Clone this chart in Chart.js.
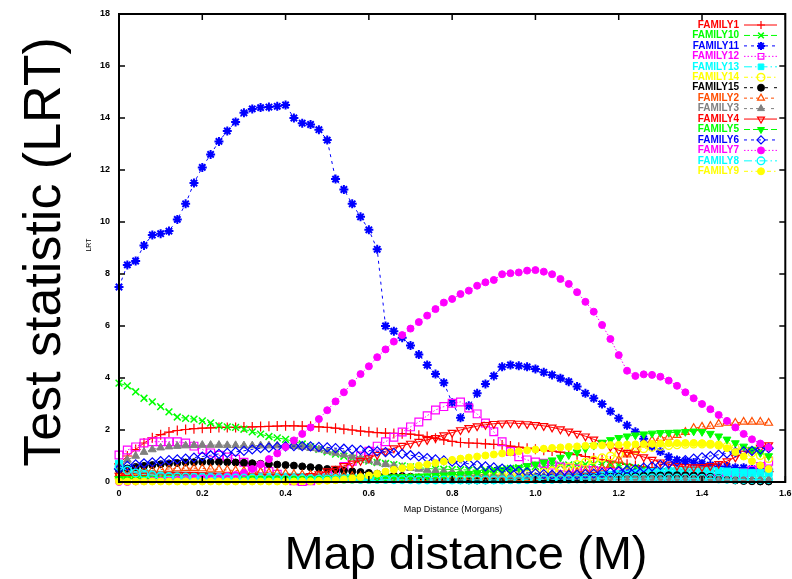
<!DOCTYPE html>
<html><head><meta charset="utf-8">
<script src="https://cdn.jsdelivr.net/npm/chart.js@4.4.1/dist/chart.umd.min.js"></script>
<style>
html,body{margin:0;padding:0;background:#fff;}
#wrap{position:relative;width:792px;height:579px;overflow:hidden;background:#fff;}
canvas{position:absolute;left:0;top:0;}
.lbl{position:absolute;font-family:'Liberation Sans',Arial,sans-serif;color:#000;white-space:nowrap;line-height:1;}
</style></head><body>
<div id="wrap">
<canvas id="c" width="792" height="579"></canvas>
<div class="lbl" style="left:42px;top:252px;font-size:52px;transform:translate(-50%,-50%) rotate(-90deg);">Test statistic (LRT)</div>
<div class="lbl" style="left:88px;top:245px;font-size:7px;transform:translate(-50%,-50%) rotate(-90deg);">LRT</div>
<div class="lbl" style="left:453px;top:509px;font-size:9px;transform:translate(-50%,-50%);">Map Distance (Morgans)</div>
<div class="lbl" style="left:466px;top:552px;font-size:47px;transform:translate(-50%,-50%);">Map distance (M)</div>
</div>
<script>
const distances = [0,0.02,0.04,0.06,0.08,0.1,0.12,0.14,0.16,0.18,0.2,0.22,0.24,0.26,0.28,0.3,0.32,0.34,0.36,0.38,0.4,0.42,0.44,0.46,0.48,0.5,0.52,0.54,0.56,0.58,0.6,0.62,0.64,0.66,0.68,0.7,0.72,0.74,0.76,0.78,0.8,0.82,0.84,0.86,0.88,0.9,0.92,0.94,0.96,0.98,1,1.02,1.04,1.06,1.08,1.1,1.12,1.14,1.16,1.18,1.2,1.22,1.24,1.26,1.28,1.3,1.32,1.34,1.36,1.38,1.4,1.42,1.44,1.46,1.48,1.5,1.52,1.54,1.56];

const family1 = [0.7,1.0,1.25,1.5,1.7,1.82,1.92,1.98,2.02,2.05, 2.07,2.08,2.1,2.1,2.1,2.12,2.12,2.13,2.14,2.15, 2.16,2.16,2.15,2.14,2.12,2.1,2.07,2.03,2.0,1.96, 1.93,1.9,1.88,1.87,1.86,1.84,1.8,1.75,1.68,1.62, 1.56,1.52,1.5,1.49,1.47,1.45,1.42,1.38,1.34,1.3, 1.26,1.22,1.19,1.15,1.1,1.05,0.98,0.92,0.86,0.8, 0.74,0.68,0.63,0.58,0.55,0.52,0.5,0.48,0.46,0.45, 0.44,0.43,0.42,0.41,0.4,0.4,0.4,0.4,0.4];
const family10 = [3.8,3.7,3.47,3.22,3.08,2.9,2.7,2.5,2.45,2.42, 2.35,2.27,2.17,2.12,2.1,2.03,1.93,1.84,1.75,1.7, 1.64,1.56,1.46,1.36,1.26,1.16,1.07,0.99,0.92,0.86, 0.8,0.75,0.71,0.67,0.62,0.58,0.55,0.52,0.5,0.49, 0.48,0.47,0.46,0.46,0.47,0.48,0.5,0.52,0.55,0.58, 0.6,0.62,0.64,0.65,0.66,0.67,0.68,0.68,0.67,0.66, 0.64,0.6,0.55,0.5,0.45,0.4,0.36,0.33,0.3,0.28, 0.26,0.25,0.24,0.23,0.22,0.21,0.2,0.2,0.2];
const family11 = [7.5,8.35,8.5,9.1,9.5,9.55,9.65,10.1,10.7,11.5, 12.1,12.6,13.1,13.5,13.85,14.2,14.35,14.4,14.42,14.45, 14.5,14.0,13.8,13.75,13.55,13.15,11.65,11.25,10.7,10.2, 9.7,8.95,6.0,5.8,5.55,5.25,4.9,4.5,4.15,3.82, 3.05,2.47,2.93,3.41,3.77,4.08,4.43,4.5,4.47,4.43, 4.35,4.22,4.12,3.99,3.86,3.67,3.41,3.22,3.0,2.72, 2.45,2.18,1.93,1.66,1.36,1.17,0.97,0.85,0.8,0.75, 0.7,0.65,0.6,0.6,0.55,0.55,0.5,0.5,0.48];
const family12 = [1.04,1.23,1.35,1.5,1.55,1.55,1.55,1.55,1.5,1.38, 1.25,1.12,1.03,0.96,0.88,0.76,0.63,0.5,0.4,0.3, 0.15,0.05,0.02,0.05,0.12,0.22,0.38,0.6,0.8,1.0, 1.18,1.38,1.55,1.72,1.92,2.12,2.31,2.55,2.77,2.9, 3.03,3.08,2.85,2.62,2.27,1.93,1.55,1.17,0.97,0.85, 0.77,0.72,0.65,0.58,0.54,0.5,0.47,0.44,0.4,0.37, 0.35,0.32,0.3,0.28,0.26,0.24,0.22,0.2,0.18,0.16, 0.15,0.15,0.15,0.18,0.25,0.35,0.45,0.6,0.8];
const family13 = [0.7,0.5,0.4,0.35,0.3,0.28,0.26,0.25,0.24,0.23, 0.22,0.22,0.21,0.21,0.2,0.2,0.2,0.2,0.2,0.2, 0.2,0.2,0.19,0.19,0.18,0.18,0.17,0.17,0.16,0.16, 0.15,0.15,0.14,0.14,0.13,0.13,0.12,0.12,0.11,0.11, 0.1,0.1,0.1,0.1,0.1,0.11,0.11,0.12,0.12,0.13, 0.14,0.15,0.16,0.17,0.18,0.2,0.22,0.24,0.26,0.28, 0.3,0.32,0.34,0.36,0.38,0.4,0.42,0.43,0.44,0.45, 0.45,0.44,0.42,0.4,0.38,0.36,0.35,0.35,0.35];
const family14 = [0.15,0.14,0.13,0.12,0.12,0.11,0.11,0.1,0.1,0.1, 0.1,0.1,0.11,0.11,0.11,0.12,0.12,0.12,0.12,0.12, 0.12,0.12,0.12,0.11,0.11,0.11,0.1,0.1,0.1,0.1, 0.1,0.11,0.11,0.12,0.12,0.13,0.13,0.14,0.15,0.16, 0.17,0.18,0.19,0.2,0.21,0.22,0.23,0.25,0.27,0.3, 0.33,0.37,0.43,0.5,0.58,0.67,0.76,0.85,0.93,1.0, 1.08,1.15,1.22,1.28,1.33,1.37,1.4,1.43,1.45,1.46, 1.46,1.45,1.42,1.37,1.3,1.22,1.12,1.02,0.9];
const family15 = [0.45,0.52,0.58,0.62,0.65,0.68,0.71,0.73,0.75,0.76, 0.77,0.77,0.77,0.76,0.75,0.74,0.72,0.7,0.69,0.67, 0.65,0.63,0.6,0.57,0.54,0.5,0.47,0.44,0.41,0.38, 0.35,0.32,0.29,0.26,0.23,0.2,0.17,0.14,0.12,0.1, 0.08,0.07,0.06,0.06,0.06,0.07,0.07,0.08,0.09,0.1, 0.11,0.12,0.13,0.14,0.15,0.16,0.17,0.18,0.19,0.2, 0.21,0.22,0.23,0.24,0.25,0.25,0.26,0.26,0.26,0.25, 0.24,0.2,0.15,0.1,0.06,0.04,0.03,0.02,0.02];
const family2 = [0.3,0.35,0.4,0.42,0.45,0.48,0.5,0.52,0.53,0.53, 0.52,0.5,0.48,0.46,0.44,0.42,0.4,0.38,0.36,0.34, 0.32,0.3,0.28,0.27,0.26,0.25,0.24,0.23,0.22,0.21, 0.2,0.19,0.18,0.17,0.16,0.15,0.14,0.13,0.12,0.12, 0.11,0.11,0.1,0.1,0.1,0.1,0.11,0.12,0.13,0.15, 0.17,0.2,0.24,0.28,0.33,0.38,0.42,0.46,0.52,0.65, 0.85,1.05,1.25,1.45,1.6,1.69,1.73,1.8,1.92,2.07, 2.12,2.15,2.23,2.27,2.27,2.31,2.31,2.31,2.27];
const family3 = [0.6,0.85,1.0,1.15,1.25,1.32,1.36,1.38,1.4,1.41, 1.42,1.42,1.42,1.41,1.41,1.4,1.4,1.4,1.4,1.4, 1.4,1.38,1.35,1.3,1.25,1.18,1.12,1.05,0.98,0.9, 0.82,0.75,0.68,0.62,0.57,0.53,0.5,0.46,0.43,0.4, 0.37,0.34,0.32,0.3,0.28,0.26,0.25,0.24,0.23,0.22, 0.21,0.2,0.2,0.19,0.19,0.18,0.18,0.17,0.17,0.16, 0.16,0.15,0.15,0.14,0.14,0.13,0.13,0.12,0.12,0.11, 0.11,0.1,0.1,0.1,0.1,0.1,0.1,0.1,0.1];
const family4 = [0.25,0.25,0.25,0.25,0.26,0.27,0.28,0.28,0.28,0.28, 0.27,0.26,0.25,0.24,0.23,0.22,0.21,0.2,0.2,0.2, 0.2,0.2,0.21,0.24,0.3,0.42,0.52,0.62,0.72,0.82, 0.92,1.05,1.18,1.3,1.4,1.48,1.55,1.62,1.7,1.8, 1.9,2.0,2.08,2.15,2.2,2.24,2.26,2.27,2.25,2.23, 2.2,2.16,2.1,2.03,1.95,1.86,1.76,1.64,1.5,1.36, 1.22,1.13,1.06,0.96,0.86,0.76,0.68,0.62,0.58,0.57, 0.58,0.62,0.7,0.8,0.95,1.1,1.22,1.32,1.42];
const family5 = [0.12,0.12,0.13,0.13,0.14,0.14,0.15,0.15,0.15,0.15, 0.15,0.15,0.15,0.15,0.14,0.14,0.14,0.13,0.13,0.13, 0.12,0.12,0.12,0.12,0.12,0.12,0.13,0.13,0.14,0.15, 0.16,0.17,0.18,0.19,0.2,0.21,0.22,0.23,0.24,0.26, 0.28,0.3,0.32,0.35,0.38,0.42,0.46,0.5,0.55,0.62, 0.68,0.76,0.84,0.94,1.04,1.15,1.28,1.4,1.52,1.62, 1.7,1.76,1.8,1.84,1.87,1.89,1.9,1.91,1.93,1.95, 1.93,1.86,1.76,1.64,1.5,1.37,1.25,1.12,1.0];
const family6 = [0.5,0.62,0.68,0.72,0.76,0.8,0.84,0.87,0.9,0.94, 0.98,1.03,1.08,1.12,1.16,1.2,1.25,1.3,1.32,1.35, 1.37,1.38,1.38,1.37,1.35,1.33,1.3,1.28,1.25,1.23, 1.21,1.18,1.15,1.12,1.08,1.03,0.98,0.92,0.87,0.83, 0.78,0.74,0.7,0.65,0.6,0.56,0.52,0.48,0.42,0.37, 0.33,0.3,0.28,0.27,0.27,0.28,0.3,0.32,0.35,0.38, 0.42,0.46,0.5,0.55,0.6,0.66,0.72,0.78,0.84,0.9, 0.95,1.0,1.05,1.1,1.15,1.18,1.2,1.25,1.3];
const family7 = [0,0,0.02,0.03,0.05,0.06,0.08,0.1,0.12,0.14, 0.16,0.18,0.2,0.23,0.27,0.35,0.5,0.68,0.88,1.1, 1.35,1.6,1.85,2.1,2.42,2.76,3.1,3.45,3.8,4.15, 4.45,4.8,5.1,5.4,5.65,5.9,6.15,6.4,6.65,6.9, 7.04,7.23,7.36,7.55,7.68,7.77,7.99,8.03,8.06,8.13, 8.15,8.09,7.99,7.81,7.62,7.3,6.93,6.55,6.04,5.5, 4.88,4.28,4.08,4.14,4.12,4.05,3.9,3.7,3.45,3.22, 3.0,2.8,2.58,2.35,2.1,1.85,1.64,1.48,1.33];
const family8 = [0.6,0.45,0.35,0.3,0.26,0.23,0.21,0.2,0.19,0.18, 0.17,0.17,0.16,0.16,0.15,0.15,0.15,0.14,0.14,0.14, 0.13,0.13,0.13,0.12,0.12,0.12,0.11,0.11,0.11,0.1, 0.1,0.1,0.1,0.09,0.09,0.09,0.08,0.08,0.08,0.08, 0.08,0.08,0.08,0.08,0.08,0.08,0.08,0.09,0.09,0.09, 0.1,0.1,0.1,0.11,0.11,0.12,0.12,0.12,0.13,0.13, 0.13,0.14,0.14,0.14,0.15,0.15,0.15,0.15,0.15,0.14, 0.14,0.13,0.12,0.11,0.1,0.1,0.1,0.1,0.1];
const family9 = [0.02,0.02,0.02,0.02,0.02,0.02,0.02,0.02,0.02,0.02, 0.02,0.02,0.02,0.02,0.02,0.02,0.02,0.02,0.02,0.02, 0.02,0.02,0.03,0.03,0.04,0.05,0.07,0.1,0.14,0.19, 0.25,0.32,0.4,0.47,0.53,0.58,0.63,0.68,0.73,0.79, 0.85,0.9,0.94,0.98,1.02,1.06,1.1,1.14,1.18,1.22, 1.25,1.28,1.31,1.33,1.35,1.37,1.39,1.4,1.41,1.42, 1.43,1.44,1.45,1.46,1.47,1.48,1.49,1.5,1.5,1.5, 1.49,1.46,1.4,1.3,1.15,0.98,0.8,0.64,0.5];

const seriesNames = ['FAMILY1','FAMILY10','FAMILY11','FAMILY12','FAMILY13','FAMILY14','FAMILY15','FAMILY2','FAMILY3','FAMILY4','FAMILY5','FAMILY6','FAMILY7','FAMILY8','FAMILY9'];
const seriesValues = [family1,family10,family11,family12,family13,family14,family15,family2,family3,family4,family5,family6,family7,family8,family9];
const xTickStep = 0.2, xMax = 1.6, yTickStep = 2, yMax = 18;

// style per series (gnuplot postscript palette / point types)
const styles = [
  {c:'#ff0000', ps:'cross', r:5, fill:false, dash:[], bw:1.2},
  {c:'#00ff00', ps:'crossRot', r:4.8, fill:false, dash:[6,3], bw:1.5},
  {c:'#0000ff', ps:'star', r:4.5, fill:false, dash:[3,4], bw:2},
  {c:'#ff00ff', ps:'rect', r:5.5, fill:false, dash:[1.5,2], bw:1.2},
  {c:'#00ffff', ps:'rect', r:5, fill:true, dash:[8,3,1.5,3], bw:1},
  {c:'#ffff00', ps:'circle', r:3.8, fill:false, dash:[4,3,1.5,3], bw:1.4},
  {c:'#000000', ps:'circle', r:3.5, fill:true, dash:[3,3,3,6], bw:1},
  {c:'#ff4d00', ps:'triangle', r:4.5, fill:false, dash:[3,3,3,3,3,6], bw:1.2},
  {c:'#808080', ps:'triangle', r:4.5, fill:true, dash:[3,3,3,3,3,3,3,6], bw:1},
  {c:'#ff0000', ps:'triangle', r:4.5, fill:false, dash:[], rot:180, bw:1.2},
  {c:'#00ff00', ps:'triangle', r:4.5, fill:true, dash:[6,3], rot:180, bw:1},
  {c:'#0000ff', ps:'rectRot', r:4.5, fill:false, dash:[3,4], bw:1.2},
  {c:'#ff00ff', ps:'circle', r:3.5, fill:true, dash:[1.5,2], bw:1},
  {c:'#00ffff', ps:'circle', r:3.8, fill:false, dash:[8,3,1.5,3], bw:1.4},
  {c:'#ffff00', ps:'circle', r:3.5, fill:true, dash:[4,3,1.5,3], bw:1}
];

const datasets = seriesNames.map((name,i)=>{
  const s = styles[i];
  return {
    label: name,
    data: distances.map((d,k)=>({x:d, y:seriesValues[i][k]})),
    borderColor: s.c,
    backgroundColor: s.fill ? s.c : 'rgba(0,0,0,0)',
    borderWidth: 1,
    borderDash: s.dash,
    pointStyle: s.ps,
    pointRadius: s.r,
    pointRotation: s.rot || 0,
    pointBorderColor: s.c,
    pointBackgroundColor: s.fill ? s.c : 'rgba(0,0,0,0)',
    pointBorderWidth: s.bw,
    tension: 0,
    fill: false,
    clip: false,
    order: seriesNames.length - i
  };
});

const framePlugin = {
  id: 'frame',
  afterDatasetsDraw(chart){
    const {ctx, chartArea:a, scales:{x,y}} = chart;
    ctx.save();
    ctx.setLineDash([]);
    ctx.strokeStyle = '#000';
    ctx.lineWidth = 2;
    ctx.strokeRect(a.left, a.top, a.right-a.left, a.bottom-a.top);
    const tl = 6;
    ctx.lineWidth = 1.5;
    ctx.beginPath();
    x.ticks.forEach(t=>{const px=x.getPixelForValue(t.value); ctx.moveTo(px,a.bottom); ctx.lineTo(px,a.bottom-tl); ctx.moveTo(px,a.top); ctx.lineTo(px,a.top+tl);});
    y.ticks.forEach(t=>{const py=y.getPixelForValue(t.value); ctx.moveTo(a.left,py); ctx.lineTo(a.left+tl,py); ctx.moveTo(a.right,py); ctx.lineTo(a.right-tl,py);});
    ctx.stroke();
    // legend
    const H = Chart.helpers;
    ctx.font = 'bold 10px "Liberation Sans", Arial, sans-serif';
    ctx.textAlign = 'right';
    ctx.textBaseline = 'middle';
    chart.data.datasets.forEach((ds,i)=>{
      const ly = 25 + i*10.45;
      ctx.fillStyle = ds.borderColor;
      ctx.fillText(ds.label, 739, ly);
      ctx.strokeStyle = ds.borderColor;
      ctx.lineWidth = 1;
      ctx.setLineDash(ds.borderDash);
      ctx.beginPath(); ctx.moveTo(744, ly); ctx.lineTo(777, ly); ctx.stroke();
      ctx.setLineDash([]);
      ctx.fillStyle = ds.pointBackgroundColor;
      ctx.lineWidth = ds.pointBorderWidth;
      H.drawPoint(ctx, {pointStyle: ds.pointStyle, rotation: ds.pointRotation, radius: Math.min(ds.pointRadius, 4), borderWidth: ds.pointBorderWidth}, 761, ly);
    });
    ctx.restore();
  }
};

const tickFont = {family:'"Liberation Sans", Arial, sans-serif', size:9, weight:'bold'};

new Chart(document.getElementById('c'), {
  type: 'line',
  data: {datasets},
  options: {
    responsive: false,
    animation: false,
    events: [],
    layout: {padding: {top:14, right:4, left:0, bottom:0}},
    plugins: {legend:{display:false}, tooltip:{enabled:false}},
    scales: {
      x: {
        type: 'linear', min: 0, max: xMax,
        ticks: {stepSize: xTickStep, font: tickFont, color:'#000', padding: 6, maxRotation: 0, autoSkip: false},
        grid: {display:false, drawTicks:false},
        border: {display:false},
        afterFit(s){ s.height = 97; s.paddingLeft = 0; s.paddingRight = 0; }
      },
      y: {
        type: 'linear', min: 0, max: yMax,
        ticks: {stepSize: yTickStep, font: tickFont, color:'#000', padding: 9},
        grid: {display:false, drawTicks:false},
        border: {display:false},
        afterFit(s){ s.width = 119; s.paddingTop = 0; s.paddingBottom = 0; }
      }
    }
  },
  plugins: [framePlugin]
});
</script>
</body></html>
